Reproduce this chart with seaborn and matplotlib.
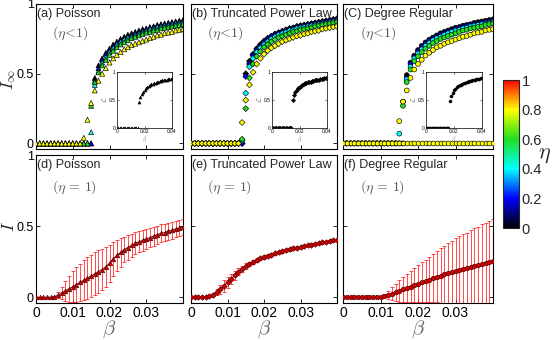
import numpy as np
import pandas as pd
import matplotlib
matplotlib.use('Agg')
import matplotlib.pyplot as plt
import seaborn as sns
from matplotlib.colors import LinearSegmentedColormap, Normalize
from matplotlib.cm import ScalarMappable

# infection rate grid
beta = [0.000, 0.001, 0.002, 0.003, 0.004, 0.005, 0.006, 0.007, 0.008, 0.009,
        0.010, 0.011, 0.012, 0.013, 0.014, 0.015, 0.016, 0.017, 0.018, 0.019,
        0.020, 0.021, 0.022, 0.023, 0.024, 0.025, 0.026, 0.027, 0.028, 0.029,
        0.030, 0.031, 0.032, 0.033, 0.034, 0.035, 0.036, 0.037, 0.038, 0.039,
        0.040]
eta = [0.0, 0.2, 0.4, 0.6, 0.8]

# (a) Poisson, eta < 1
a_eta0 = [0.0]*16 + [0.47, 0.56, 0.61, 0.65, 0.68, 0.71, 0.73, 0.75, 0.765, 0.78, 0.79, 0.80, 0.81,
                     0.82, 0.825, 0.835, 0.84, 0.85, 0.855, 0.86, 0.865, 0.87, 0.875, 0.88, 0.885]
a_eta2 = [0.0]*16 + [0.45, 0.54, 0.60, 0.64, 0.67, 0.70, 0.72, 0.74, 0.755, 0.77, 0.78, 0.79, 0.80,
                     0.81, 0.82, 0.83, 0.835, 0.845, 0.85, 0.855, 0.86, 0.865, 0.87, 0.875, 0.88]
a_eta4 = [0.0]*15 + [0.08, 0.42, 0.52, 0.58, 0.62, 0.655, 0.685, 0.71, 0.73, 0.745, 0.76, 0.77, 0.78,
                     0.79, 0.80, 0.81, 0.82, 0.825, 0.835, 0.84, 0.845, 0.85, 0.855, 0.86, 0.865, 0.87]
a_eta6 = [0.0]*15 + [0.27, 0.44, 0.51, 0.56, 0.60, 0.635, 0.665, 0.69, 0.71, 0.725, 0.74, 0.755, 0.765,
                     0.775, 0.785, 0.795, 0.80, 0.81, 0.815, 0.825, 0.83, 0.835, 0.84, 0.845, 0.85, 0.855]
a_eta8 = [0.0]*13 + [0.04, 0.17, 0.29, 0.38, 0.45, 0.50, 0.54, 0.58, 0.61, 0.635, 0.655, 0.675, 0.69, 0.705,
                     0.715, 0.725, 0.735, 0.745, 0.755, 0.765, 0.775, 0.78, 0.79, 0.795, 0.80, 0.81, 0.815, 0.82]

# (b) truncated power law, eta < 1
b_eta0 = [0.0]*15 + [0.50, 0.59, 0.64, 0.68, 0.71, 0.735, 0.755, 0.77, 0.785, 0.795, 0.805, 0.815, 0.825,
                     0.83, 0.84, 0.845, 0.85, 0.855, 0.86, 0.865, 0.87, 0.875, 0.88, 0.885, 0.89, 0.895]
b_eta2 = [0.0]*15 + [0.48, 0.57, 0.63, 0.67, 0.70, 0.725, 0.745, 0.765, 0.78, 0.79, 0.80, 0.81, 0.82,
                     0.825, 0.835, 0.84, 0.845, 0.85, 0.855, 0.86, 0.865, 0.87, 0.875, 0.88, 0.885, 0.89]
b_eta4 = [0.0]*14 + [0.02, 0.36, 0.55, 0.61, 0.655, 0.685, 0.71, 0.73, 0.75, 0.765, 0.78, 0.79, 0.80, 0.81,
                     0.815, 0.825, 0.83, 0.835, 0.84, 0.845, 0.85, 0.855, 0.86, 0.865, 0.87, 0.875, 0.88]
b_eta6 = [0.0]*14 + [0.03, 0.25, 0.47, 0.57, 0.625, 0.66, 0.69, 0.71, 0.73, 0.745, 0.76, 0.77, 0.78, 0.79,
                     0.80, 0.805, 0.815, 0.82, 0.825, 0.83, 0.84, 0.845, 0.85, 0.855, 0.86, 0.865, 0.87]
b_eta8 = [0.0]*14 + [0.15, 0.31, 0.42, 0.51, 0.57, 0.61, 0.64, 0.665, 0.685, 0.70, 0.715, 0.73, 0.74, 0.75,
                     0.76, 0.77, 0.775, 0.785, 0.79, 0.80, 0.805, 0.81, 0.82, 0.825, 0.83, 0.835, 0.84]

# (c) degree regular, eta < 1
c_eta0 = [0.0]*17 + [0.49, 0.58, 0.63, 0.67, 0.70, 0.725, 0.745, 0.76, 0.775, 0.79, 0.80, 0.81,
                     0.82, 0.83, 0.835, 0.845, 0.85, 0.855, 0.865, 0.87, 0.875, 0.88, 0.885, 0.89]
c_eta2 = [0.0]*17 + [0.47, 0.57, 0.62, 0.66, 0.69, 0.715, 0.735, 0.75, 0.765, 0.78, 0.79, 0.80,
                     0.81, 0.82, 0.83, 0.835, 0.845, 0.85, 0.855, 0.86, 0.865, 0.87, 0.875, 0.88]
c_eta4 = [0.0]*15 + [0.07, 0.30, 0.46, 0.55, 0.61, 0.645, 0.675, 0.70, 0.72, 0.74, 0.755, 0.765, 0.78,
                     0.79, 0.80, 0.81, 0.815, 0.825, 0.83, 0.84, 0.845, 0.85, 0.855, 0.86, 0.865, 0.87]
c_eta6 = [0.0]*16 + [0.27, 0.44, 0.53, 0.59, 0.625, 0.655, 0.68, 0.70, 0.72, 0.735, 0.75, 0.76, 0.77,
                     0.78, 0.79, 0.80, 0.81, 0.815, 0.825, 0.83, 0.835, 0.84, 0.85, 0.855, 0.86]
c_eta8 = [0.0]*15 + [0.16, 0.30, 0.38, 0.47, 0.53, 0.57, 0.60, 0.63, 0.65, 0.67, 0.69, 0.70, 0.715,
                     0.725, 0.735, 0.745, 0.755, 0.765, 0.77, 0.78, 0.79, 0.795, 0.80, 0.81, 0.815, 0.82]
c_dead = [0.0]*41  # runs that die out, seen along the axis for every beta

# bottom row, eta = 1: mean and spread
d_mean = [0.0]*5 + [0.005, 0.015, 0.03, 0.045, 0.06, 0.075, 0.09, 0.105, 0.12, 0.135, 0.15, 0.165,
                    0.18, 0.195, 0.215, 0.24, 0.27, 0.295, 0.315, 0.335, 0.35, 0.365, 0.38, 0.39,
                    0.40, 0.41, 0.42, 0.43, 0.44, 0.45, 0.455, 0.465, 0.47, 0.48, 0.485, 0.495]
d_std = [0.0]*5 + [0.005, 0.02, 0.04, 0.07, 0.09, 0.11, 0.12, 0.13, 0.14, 0.145, 0.15, 0.15, 0.15,
                   0.145, 0.14, 0.13, 0.12, 0.11, 0.10, 0.09, 0.085, 0.08, 0.078, 0.075, 0.073, 0.07,
                   0.068, 0.066, 0.064, 0.062, 0.06, 0.059, 0.058, 0.057, 0.056, 0.055]
e_mean = [0.0]*4 + [0.003, 0.008, 0.018, 0.035, 0.055, 0.08, 0.105, 0.13, 0.155, 0.18, 0.20, 0.22,
                    0.235, 0.25, 0.262, 0.273, 0.283, 0.292, 0.30, 0.308, 0.316, 0.323, 0.33, 0.337,
                    0.343, 0.349, 0.355, 0.36, 0.366, 0.371, 0.376, 0.381, 0.386, 0.39, 0.395, 0.40, 0.405]
e_std = [0.0]*5 + [0.005, 0.01, 0.02, 0.03, 0.04, 0.04, 0.035, 0.03, 0.025, 0.02, 0.018, 0.015,
                   0.013, 0.012, 0.012, 0.011, 0.011, 0.011, 0.010, 0.010, 0.010, 0.010, 0.009, 0.009,
                   0.009, 0.009, 0.009, 0.008, 0.008, 0.008, 0.008, 0.008, 0.008, 0.008, 0.008, 0.008]
f_mean = [0.0]*10 + [0.003, 0.008, 0.016, 0.025, 0.035, 0.045, 0.055, 0.065, 0.075, 0.085, 0.095,
                     0.105, 0.115, 0.125, 0.135, 0.145, 0.153, 0.161, 0.169, 0.177, 0.184, 0.191,
                     0.198, 0.205, 0.212, 0.219, 0.226, 0.233, 0.24, 0.247, 0.255]
f_std = [0.0]*10 + [0.005, 0.015, 0.03, 0.045, 0.06, 0.075, 0.09, 0.10, 0.11, 0.12, 0.13, 0.14, 0.15,
                    0.16, 0.17, 0.18, 0.19, 0.20, 0.21, 0.22, 0.23, 0.24, 0.245, 0.25, 0.26, 0.265,
                    0.27, 0.28, 0.285, 0.29, 0.295]

top_titles = ['(a) Poisson', '(b) Truncated Power Law', '(C) Degree Regular']
bot_titles = ['(d) Poisson', '(e) Truncated Power Law', '(f) Degree Regular']
markers = ['^', 'D', 'o']
x_ticks = [0, 0.01, 0.02, 0.03]
x_ticklabels = ['0', '0.01', '0.02', '0.03']
y_ticks = [0, 0.5, 1]
y_ticklabels = ['0', '0.5', '1']
cbar_ticks = [0, 0.2, 0.4, 0.6, 0.8, 1]

sns.set_style('ticks')
plt.rcParams['font.family'] = ['Liberation Sans', 'DejaVu Sans']
plt.rcParams['mathtext.fontset'] = 'cm'

cmap = LinearSegmentedColormap.from_list(
    'eta', [(0, '#000000'), (0.2, '#0000ff'), (0.4, '#00ffff'),
            (0.6, '#20e020'), (0.8, '#ffff00'), (1, '#ff0000')])

fig = plt.figure(figsize=(5.55, 3.4), dpi=100)
W, H = 555.0, 340.0


def box(l, t, r, b):
    return fig.add_axes([l / W, 1 - b / H, (r - l) / W, (b - t) / H])


def style(ax, xlab, ylab, fs=10):
    ax.set_xlim(0, 0.04)
    ax.set_ylim(-0.04, 1.0)
    ax.set_xticks(x_ticks)
    ax.set_yticks(y_ticks)
    ax.set_xticklabels(x_ticklabels if xlab else [])
    ax.set_yticklabels(y_ticklabels if ylab else [])
    ax.tick_params(direction='in', top=True, right=True, length=3, width=0.6,
                   labelsize=fs, pad=2, colors='black')
    ax.tick_params(axis='y', labelsize=9, pad=1.5)
    for s in ax.spines.values():
        s.set_linewidth(0.8)
        s.set_color('black')
    ax.set_xlabel('')
    ax.set_ylabel('')


top_boxes = [(36, 4, 183, 149), (191, 4, 337, 149), (343, 4, 493, 149)]
bot_boxes = [(36, 155, 183, 303), (191, 155, 337, 303), (343, 155, 493, 303)]
inset_boxes = [(117, 72, 172, 128), (272, 72, 327, 128), (426, 72, 482, 128)]
top_data = [[a_eta0, a_eta2, a_eta4, a_eta6, a_eta8],
            [b_eta0, b_eta2, b_eta4, b_eta6, b_eta8],
            [c_eta0, c_eta2, c_eta4, c_eta6, c_eta8]]
bot_data = [(d_mean, d_std), (e_mean, e_std), (f_mean, f_std)]
top_sizes = [13, 9, 12]
bot_sizes = [3.2, 2.8, 3.2]

for i in range(3):
    ax = box(*top_boxes[i])
    rows = []
    for e, vals in zip(eta, top_data[i]):
        for b, v in zip(beta, vals):
            rows.append((b, v, e))
    df = pd.DataFrame(rows, columns=['beta', 'I', 'eta'])
    ms = top_sizes[i]
    sns.scatterplot(data=df, x='beta', y='I', hue='eta', palette=cmap, hue_norm=(0, 1),
                    marker=markers[i], s=ms, edgecolor='black', linewidth=0.45,
                    legend=False, ax=ax, zorder=3)
    if i == 2:
        sns.scatterplot(x=beta, y=c_dead, color=cmap(0.8), marker='o', s=ms,
                        edgecolor='black', linewidth=0.45, ax=ax, zorder=4)
    style(ax, False, i == 0)
    ax.text(0.01, 0.975, top_titles[i], transform=ax.transAxes, ha='left', va='top', fontsize=9)
    ax.text(0.11, 0.80, r'$(\eta\!<\!1)$', transform=ax.transAxes, ha='left', va='center',
            fontsize=10, color='#555555')

    # inset with the eta = 0 curve
    axi = box(*inset_boxes[i])
    sns.scatterplot(x=beta, y=top_data[i][0], color='black', marker=markers[i], s=5,
                    edgecolor='black', linewidth=0.3, ax=axi)
    axi.set_xlim(0, 0.04)
    axi.set_ylim(0, 1)
    axi.set_xticks([0, 0.02, 0.04])
    axi.set_xticklabels(['0', '0.02', '0.04'])
    axi.set_yticks([0, 0.5, 1])
    axi.set_yticklabels(['0', '0.5', '1'])
    axi.tick_params(direction='in', top=True, right=True, length=1.5, width=0.4,
                    labelsize=3.5, pad=1, colors='black')
    for s in axi.spines.values():
        s.set_linewidth(0.6)
    axi.set_xlabel(r'$\beta$', fontsize=4, labelpad=0, color='#666666')
    axi.set_ylabel(r'$\mathcal{L}$', fontsize=5, labelpad=0, color='#666666')

    # bottom row, eta = 1
    axb = box(*bot_boxes[i])
    m, sd = bot_data[i]
    axb.errorbar(beta, m, yerr=sd, fmt='none', ecolor='#ff1a1a', elinewidth=0.55,
                 capsize=1.5, capthick=0.55, zorder=1)
    sns.lineplot(x=beta, y=m, color='#7a0000', marker=markers[i], linewidth=0.7,
                 markersize=bot_sizes[i], markerfacecolor='#d00000',
                 markeredgecolor='#5a0000', markeredgewidth=0.5, ax=axb, zorder=3)
    style(axb, True, i == 0)
    axb.text(0.01, 0.975, bot_titles[i], transform=axb.transAxes, ha='left', va='top', fontsize=9)
    axb.text(0.11, 0.78, r'$(\eta\,=\,1)$', transform=axb.transAxes, ha='left', va='center',
             fontsize=10, color='#555555')
    axb.set_xlabel(r'$\beta$', fontsize=15, color='#666666', labelpad=-1)

fig.text(8.5 / W, 1 - 80 / H, r'$I_\infty$', rotation=90, fontsize=12.5, ha='center', va='center')
fig.text(9.5 / W, 1 - 226 / H, r'$I$', rotation=90, fontsize=13, ha='center', va='center')

cax = box(503, 80, 519, 228)
cb = fig.colorbar(ScalarMappable(norm=Normalize(0, 1), cmap=cmap), cax=cax, ticks=cbar_ticks)
cb.ax.set_yticklabels(['0', '0.2', '0.4', '0.6', '0.8', '1'])
cb.ax.tick_params(length=0, labelsize=10.5, pad=2)
cb.outline.set_linewidth(0.8)
fig.text(545 / W, 1 - 155 / H, r'$\eta$', fontsize=16, ha='center', va='center')

fig.savefig('out.png', dpi=100)
